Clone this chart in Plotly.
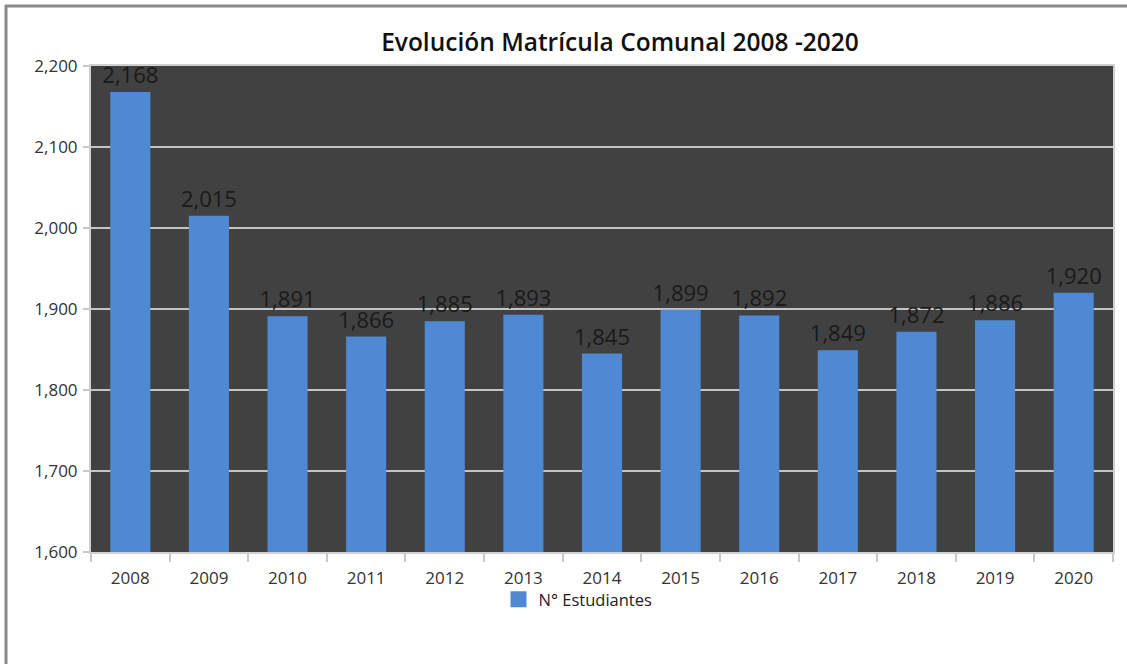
import plotly.graph_objects as go

years = ["2008", "2009", "2010", "2011", "2012", "2013", "2014", "2015", "2016", "2017", "2018", "2019", "2020"]
students = [2168, 2015, 1891, 1866, 1885, 1893, 1845, 1899, 1892, 1849, 1872, 1886, 1920]
labels = [f"{v:,}" for v in students]
series_name = "N° Estudiantes"
title_text = "Evolución Matrícula Comunal 2008 -2020"

FONT = "Open Sans, Noto Sans, DejaVu Sans, sans-serif"
BAR = "#4f89d4"

fig = go.Figure()
fig.add_trace(go.Bar(
    x=years, y=students, name=series_name, showlegend=False,
    marker=dict(color=BAR, line=dict(width=0)),
    text=labels, textposition="outside", constraintext="none",
    textfont=dict(size=22, color="#1a1a1a", family=FONT),
    cliponaxis=False,
))
# legend entry with a larger square swatch
fig.add_trace(go.Scatter(
    x=[None], y=[None], mode="markers", name=series_name,
    marker=dict(symbol="square", size=18, color=BAR),
))

W, H = 1127, 664
L, R, T, B = 91, 14, 66, 112
pw, ph = W - L - R, H - T - B

def px(x):
    return (x - L) / pw

def py(y):
    return (H - B - y) / ph

fig.update_layout(
    width=W, height=H,
    margin=dict(l=L, r=R, t=T, b=B),
    paper_bgcolor="white",
    plot_bgcolor="#414141",
    bargap=0.49,
    showlegend=True,
    font=dict(family=FONT, size=17, color="#333333"),
    title=dict(text=title_text, xref="container", x=620 / W, xanchor="center",
               yref="container", y=1 - 42 / H, yanchor="middle",
               font=dict(size=24.5, color="#111111", family=FONT, weight=600)),
    legend=dict(orientation="h", x=px(578), xanchor="center", y=py(582), yanchor="top",
                font=dict(size=16.5, color="#222222"), itemwidth=30, bgcolor="rgba(0,0,0,0)",
                itemsizing="trace"),
    xaxis=dict(type="category", tickson="boundaries", ticks="outside", ticklen=8, tickwidth=2,
               tickcolor="#c8c8c8", showgrid=False, showline=True, linecolor="#d0d0d0", linewidth=2,
               mirror=True, tickfont=dict(size=17, color="#333333"), ticklabelstandoff=10),
    yaxis=dict(range=[1600, 2200], dtick=100, tickformat=",d", ticks="outside", ticklen=6, tickwidth=2,
               tickcolor="#c8c8c8", showgrid=True, gridcolor="#c4c4c4", gridwidth=2,
               showline=True, linecolor="#d0d0d0", linewidth=2, mirror=True, zeroline=False,
               tickfont=dict(size=17, color="#333333"), ticklabelstandoff=2),
    shapes=[
        dict(type="line", xref="paper", yref="paper", x0=px(6), x1=px(6), y0=py(5), y1=py(664),
             line=dict(color="#8a8a8a", width=3)),
        dict(type="line", xref="paper", yref="paper", x0=px(5), x1=px(1127), y0=py(6), y1=py(6),
             line=dict(color="#8a8a8a", width=3)),
    ],
)

fig.write_html("out.html", config={"displayModeBar": False},
               post_script="document.body.style.margin='0';document.body.style.overflow='hidden';")
